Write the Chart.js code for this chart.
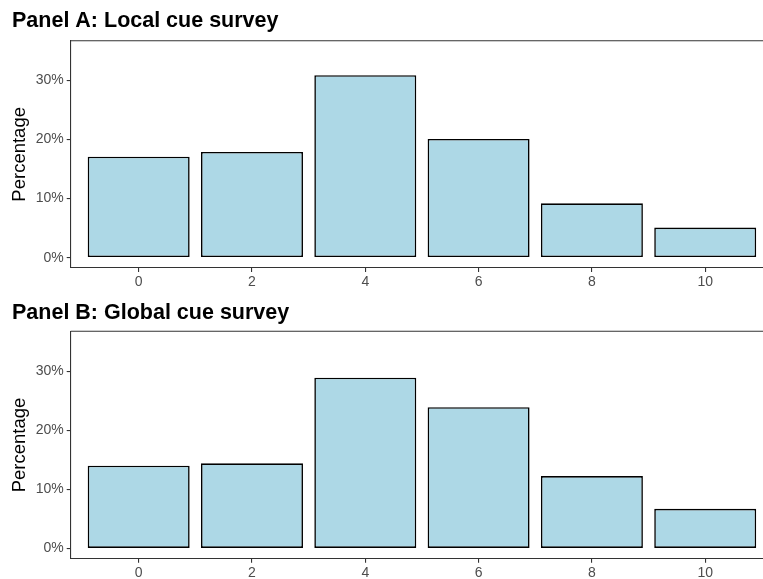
<!DOCTYPE html>
<html>
<head>
<meta charset="utf-8">
<script src="https://cdn.jsdelivr.net/npm/chart.js@4/dist/chart.umd.min.js"></script>
<style>
    body { margin: 0; background: #fff; }
    .panel { position: absolute; left: 0; width: 763px; }
</style>
</head>
<body>
<div class="panel" style="top:0px;height:290px;"><canvas id="panelA"></canvas></div>
<div class="panel" style="top:290px;height:289px;"><canvas id="panelB"></canvas></div>
<script>
// cue count bins on the x axis
const cueBins = [0, 2, 4, 6, 8, 10];
// percentage of respondents per bin
const localCuePct = [17.1, 17.9, 30.9, 20.1, 9.2, 5.1];
const globalCuePct = [14.0, 14.4, 28.9, 23.9, 12.25, 6.7];
const yTickValues = [0, 10, 20, 30];
const xTickValues = [0, 2, 4, 6, 8, 10];

const FONT = "'Liberation Sans', Arial, Helvetica, sans-serif";

// ggplot-ish top border of the panel
const topBorder = {
    id: 'topBorder',
    afterDraw(chart) {
        const {ctx, chartArea} = chart;
        ctx.save();
        ctx.strokeStyle = '#333333';
        ctx.lineWidth = 1.1;
        ctx.beginPath();
        ctx.moveTo(chartArea.left, chartArea.top);
        ctx.lineTo(chartArea.right, chartArea.top);
        ctx.stroke();
        ctx.restore();
    }
};

function makePanel(canvasId, titleText, values, titlePad, xHeight) {
    const ctx = document.getElementById(canvasId).getContext('2d');
    const points = cueBins.map((b, i) => ({x: b, y: values[i]}));

    return new Chart(ctx, {
        type: 'bar',
        data: {
            datasets: [{
                data: points,
                backgroundColor: '#ADD8E6',
                borderColor: '#000000',
                borderWidth: 1.6,
                borderSkipped: false,
                barPercentage: 0.9,
                categoryPercentage: 1.0
            }]
        },
        options: {
            responsive: true,
            maintainAspectRatio: false,
            animation: false,
            layout: { padding: { left: 12, right: 0, top: 0, bottom: 0 } },
            scales: {
                x: {
                    type: 'linear',
                    min: -1.2,
                    max: 11.02,
                    offset: false,
                    afterBuildTicks: (axis) => { axis.ticks = xTickValues.map(v => ({value: v})); },
                    afterFit: (axis) => { axis.height = xHeight; },
                    grid: { offset: false, drawOnChartArea: false, drawTicks: true, tickLength: 4, color: '#333333', lineWidth: 1.1 },
                    border: { display: true, color: '#333333', width: 1.1 },
                    ticks: { color: '#4D4D4D', padding: 2, font: { family: FONT, size: 14 } }
                },
                y: {
                    min: -1.75,
                    max: 36.75,
                    afterBuildTicks: (axis) => { axis.ticks = yTickValues.map(v => ({value: v})); },
                    afterFit: (axis) => { axis.width = 58.7; },
                    grid: { drawOnChartArea: false, drawTicks: true, tickLength: 4, color: '#333333', lineWidth: 1.1 },
                    border: { display: true, color: '#333333', width: 1.1 },
                    ticks: {
                        color: '#4D4D4D',
                        padding: 3,
                        font: { family: FONT, size: 14 },
                        callback: (v) => v + '%'
                    },
                    title: {
                        display: true,
                        text: 'Percentage',
                        color: '#000000',
                        padding: { top: -3, bottom: 0 },
                        font: { family: FONT, size: 18.5 }
                    }
                }
            },
            plugins: {
                legend: { display: false },
                tooltip: { enabled: false },
                title: {
                    display: true,
                    text: titleText,
                    align: 'start',
                    color: '#000000',
                    padding: titlePad,
                    font: { family: FONT, size: 21.5, weight: 'bold' }
                }
            }
        },
        plugins: [topBorder]
    });
}

makePanel('panelA', 'Panel A: Local cue survey', localCuePct, {top: 8.5, bottom: 6.4}, 22);
makePanel('panelB', 'Panel B: Global cue survey', globalCuePct, {top: 10, bottom: 5.5}, 20.2);
</script>
</body>
</html>
